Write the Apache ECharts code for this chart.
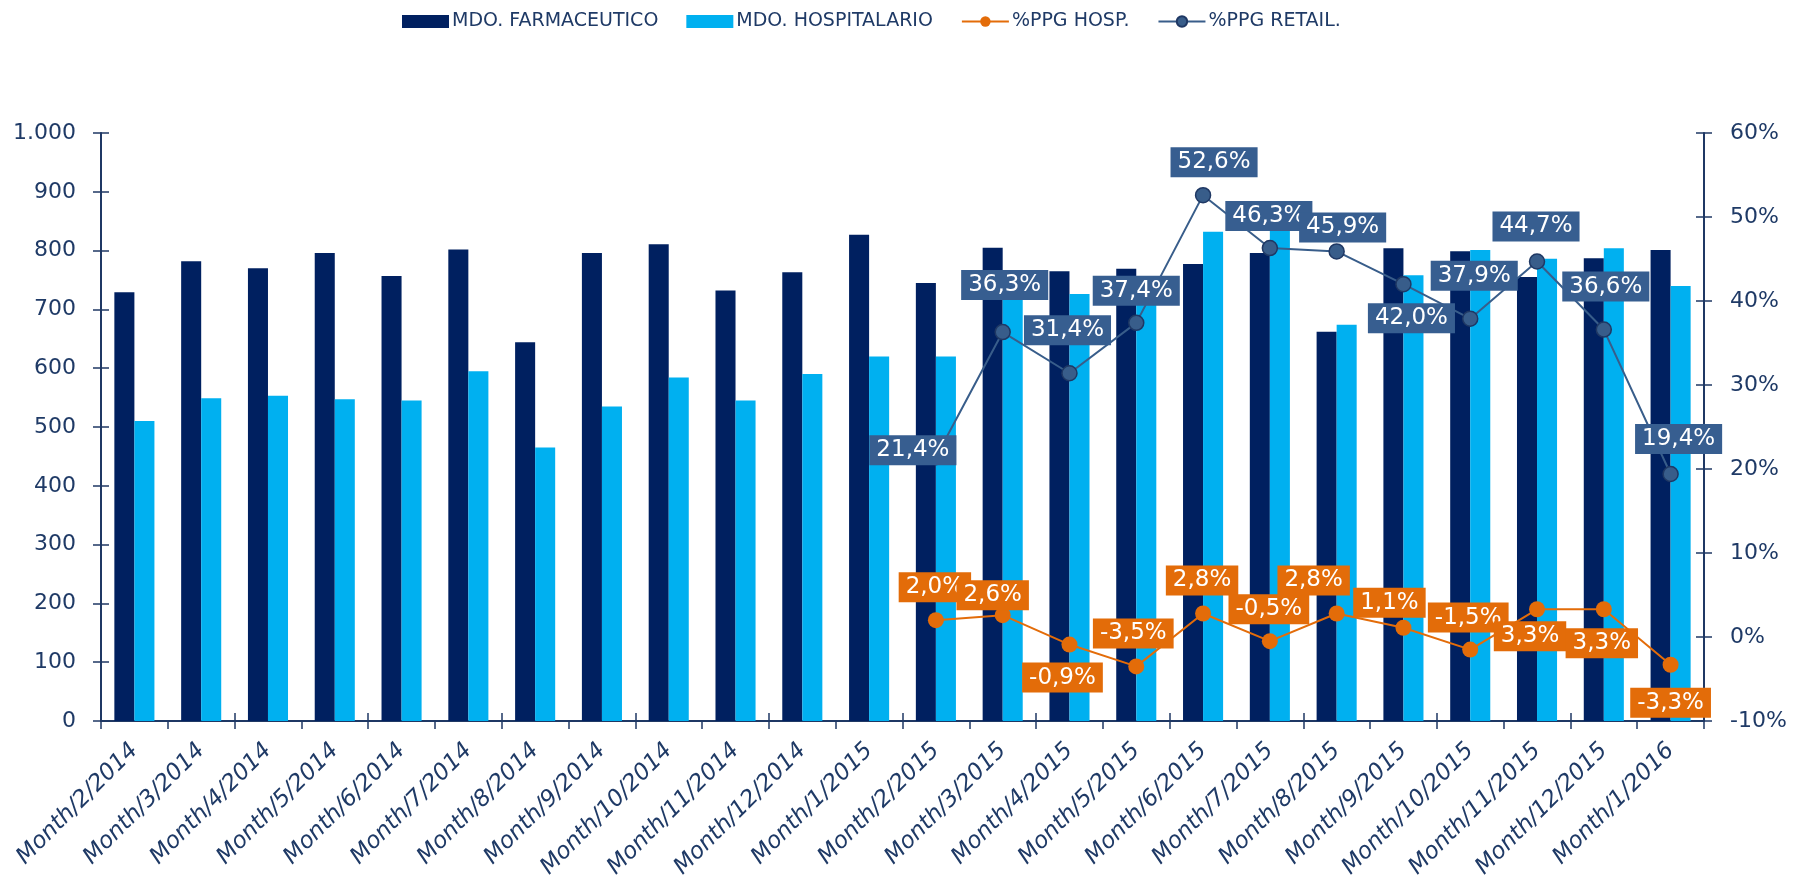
<!DOCTYPE html>
<html>
<head>
<meta charset="utf-8">
<script src="https://cdn.jsdelivr.net/npm/echarts@6/dist/echarts.min.js"></script>
<style>
  html, body { margin: 0; padding: 0; background: #fff; }
  #chart { width: 1794px; height: 883px; }
</style>
</head>
<body>
<div id="chart"></div>
<script>
// datos
var categories = ['Month/2/2014', 'Month/3/2014', 'Month/4/2014', 'Month/5/2014', 'Month/6/2014', 'Month/7/2014',
    'Month/8/2014', 'Month/9/2014', 'Month/10/2014', 'Month/11/2014', 'Month/12/2014', 'Month/1/2015',
    'Month/2/2015', 'Month/3/2015', 'Month/4/2015', 'Month/5/2015', 'Month/6/2015', 'Month/7/2015',
    'Month/8/2015', 'Month/9/2015', 'Month/10/2015', 'Month/11/2015', 'Month/12/2015', 'Month/1/2016'];
var mdoFarmaceutico = [729, 782, 770, 796, 757, 802, 644, 796, 811, 732, 763, 827,
    745, 805, 765, 769, 777, 796, 662, 804, 799, 755, 787, 801];
var mdoHospitalario = [510, 549, 553, 547, 545, 595, 465, 535, 584, 545, 590, 620,
    620, 735, 726, 730, 832, 840, 674, 758, 801, 786, 804, 740];
var ppgHosp = [null, null, null, null, null, null, null, null, null, null, null, null,
    2.0, 2.6, -0.9, -3.5, 2.8, -0.5, 2.8, 1.1, -1.5, 3.3, 3.3, -3.3];
var ppgRetail = [null, null, null, null, null, null, null, null, null, null, null, null,
    21.4, 36.3, 31.4, 37.4, 52.6, 46.3, 45.9, 42.0, 37.9, 44.7, 36.6, 19.4];
var leftTicks = { min: 0, max: 1000, interval: 100 };
var rightTicks = { min: -10, max: 60, interval: 10 };

// desplazamiento de etiquetas (como en Excel)
var hospLabelOffset = [null, null, null, null, null, null, null, null, null, null, null, null,
    [-1, -33], [-10, -20], [-7, 33], [-3, -33], [-1, -33], [-1, -32], [-23, -33], [-14, -25], [-2, -32], [-7, 27], [-2, 34], [0, 38]];
var retailLabelOffset = [null, null, null, null, null, null, null, null, null, null, null, null,
    [-23, -7], [2, -47], [-2, -43], [0, -32], [11, -33], [-1, -32], [6, -24], [8, 34], [4, -43], [-1, -35], [2, -43], [8, -35]];

var FONT = 'DejaVu Sans';
var AXIS_COLOR = '#1F3864';
var TEXT_COLOR = '#1F3A66';

function pct(v) {
    return v.toFixed(1).replace('.', ',') + '%';
}

function withLabels(values, offsets) {
    return values.map(function (v, i) {
        if (v == null) return null;
        return { value: v, label: { offset: offsets[i] } };
    });
}

var myChart = echarts.init(document.getElementById('chart'));

var tickStyle = { color: AXIS_COLOR, width: 1.5 };

var option = {
    backgroundColor: '#fff',
    animation: false,
    textStyle: { fontFamily: FONT },
    legend: {
        top: 12,
        left: 402,
        padding: 0,
        itemWidth: 47,
        itemHeight: 13,
        itemGap: 28,
        textStyle: { fontFamily: FONT, fontSize: 19, color: TEXT_COLOR, padding: [0, 0, 0, -2] },
        data: [
            { name: 'MDO. FARMACEUTICO', icon: 'rect' },
            { name: 'MDO. HOSPITALARIO', icon: 'rect' },
            '%PPG HOSP.',
            '%PPG RETAIL.'
        ]
    },
    grid: { left: 101, right: 90, top: 133, bottom: 162 },
    xAxis: [{
        type: 'category',
        data: categories,
        boundaryGap: true,
        axisLine: { lineStyle: { color: AXIS_COLOR, width: 2 } },
        axisTick: { show: true, length: 8, lineStyle: tickStyle },
        axisLabel: {
            rotate: 45, margin: 26, interval: 0,
            fontFamily: FONT, fontSize: 23, fontStyle: 'italic', color: TEXT_COLOR
        }
    }, {
        type: 'category',
        data: categories,
        position: 'bottom',
        axisLine: { show: false, onZero: false },
        axisTick: { show: true, inside: true, length: 8, lineStyle: tickStyle },
        axisLabel: { show: false }
    }],
    yAxis: [{
        type: 'value',
        min: leftTicks.min, max: leftTicks.max, interval: leftTicks.interval,
        splitLine: { show: false },
        axisLine: { show: true, lineStyle: { color: AXIS_COLOR, width: 2 } },
        axisTick: { show: true, length: 8, lineStyle: tickStyle },
        axisLabel: {
            margin: 25, fontFamily: FONT, fontSize: 22, color: TEXT_COLOR,
            formatter: function (v) {
                return v >= 1000 ? Math.floor(v / 1000) + '.' + ('00' + (v % 1000)).slice(-3) : String(v);
            }
        }
    }, {
        type: 'value',
        position: 'right',
        min: rightTicks.min, max: rightTicks.max, interval: rightTicks.interval,
        splitLine: { show: false },
        axisLine: { show: true, lineStyle: { color: AXIS_COLOR, width: 2 } },
        axisTick: { show: true, length: 8, lineStyle: tickStyle },
        axisLabel: { margin: 26, fontFamily: FONT, fontSize: 22, color: TEXT_COLOR, formatter: '{value}%' }
    }, {
        // ticks hacia dentro, eje izquierdo
        type: 'value',
        position: 'left',
        min: leftTicks.min, max: leftTicks.max, interval: leftTicks.interval,
        splitLine: { show: false },
        axisLine: { show: false, onZero: false },
        axisTick: { show: true, inside: true, length: 8, lineStyle: tickStyle },
        axisLabel: { show: false }
    }, {
        // ticks hacia dentro, eje derecho
        type: 'value',
        position: 'right',
        min: rightTicks.min, max: rightTicks.max, interval: rightTicks.interval,
        splitLine: { show: false },
        axisLine: { show: false, onZero: false },
        axisTick: { show: true, inside: true, length: 8, lineStyle: tickStyle },
        axisLabel: { show: false }
    }],
    series: [
        {
            name: 'MDO. FARMACEUTICO',
            type: 'bar',
            yAxisIndex: 0,
            barWidth: '30%',
            barGap: '0%',
            itemStyle: { color: '#002060' },
            data: mdoFarmaceutico
        },
        {
            name: 'MDO. HOSPITALARIO',
            type: 'bar',
            yAxisIndex: 0,
            barWidth: '30%',
            barGap: '0%',
            itemStyle: { color: '#00B0F0' },
            data: mdoHospitalario
        },
        {
            name: '%PPG HOSP.',
            type: 'line',
            yAxisIndex: 1,
            symbol: 'circle',
            symbolSize: 16,
            z: 4,
            lineStyle: { color: '#E36C09', width: 2 },
            itemStyle: { color: '#E36C09' },
            label: {
                show: true,
                position: 'inside',
                formatter: function (p) { return pct(p.value); },
                backgroundColor: '#E36C09',
                color: '#fff',
                fontFamily: FONT,
                fontSize: 23,
                padding: [4, 7, 3, 7]
            },
            data: withLabels(ppgHosp, hospLabelOffset)
        },
        {
            name: '%PPG RETAIL.',
            type: 'line',
            yAxisIndex: 1,
            symbol: 'circle',
            symbolSize: 15,
            z: 5,
            lineStyle: { color: '#385D8A', width: 2 },
            itemStyle: { color: '#385D8A', borderColor: '#1F3864', borderWidth: 1.5 },
            label: {
                show: true,
                position: 'inside',
                formatter: function (p) { return pct(p.value); },
                backgroundColor: '#375E90',
                color: '#fff',
                fontFamily: FONT,
                fontSize: 23,
                padding: [4, 7, 3, 7]
            },
            data: withLabels(ppgRetail, retailLabelOffset)
        }
    ]
};

myChart.setOption(option);
</script>
</body>
</html>
